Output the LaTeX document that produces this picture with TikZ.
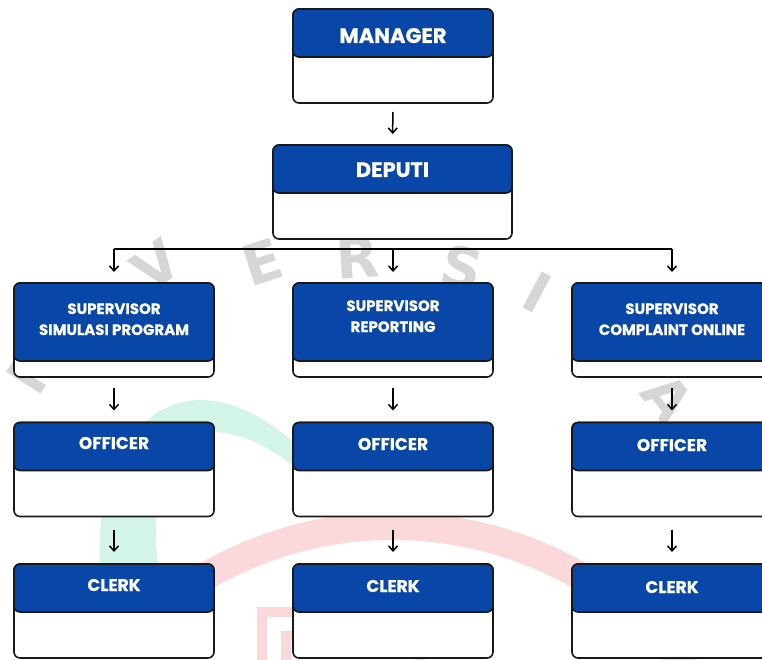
\documentclass[tikz,border=0pt]{standalone}
\usepackage{fontspec}
\setmainfont{Poppins}[BoldFeatures={FakeBold=0.6}]
\newfontfamily\wmfont{DejaVu Sans}
\usetikzlibrary{arrows.meta,calc}
\definecolor{hdblue}{RGB}{8,70,168}
\definecolor{wmgreen}{RGB}{210,245,232}
\definecolor{wmpink}{RGB}{251,216,217}
\begin{document}
\begin{tikzpicture}[x=1pt,y=-1pt,
  box/.style={draw=black!90, line width=1.6pt, rounded corners=6pt, fill=white, inner sep=0pt, outer sep=0pt, minimum width=200pt, minimum height=94pt},
  head/.style={draw=black!90, line width=1.6pt, rounded corners=6pt, fill=hdblue, inner sep=0pt, outer sep=0pt, minimum width=200pt, anchor=north},
  ttl/.style={text=white, font=\bfseries\fontsize{21}{24}\selectfont, anchor=base, inner sep=0pt},
  lvl/.style={text=white, font=\bfseries\fontsize{17}{20}\selectfont, anchor=base, inner sep=0pt},
  sub/.style={text=white, font=\bfseries\fontsize{15}{18}\selectfont, anchor=base, inner sep=0pt},
  arr/.style={line width=1.5pt, -{Straight Barb[length=5pt,width=9pt,line width=1.5pt]}},
  wm/.style={text=black!16, font=\wmfont\bfseries\fontsize{56}{56}\selectfont, inner sep=0pt}
]
\useasboundingbox (0,0) rectangle (762,660);
\clip (0,0) rectangle (762,660);

% ---- faint watermark ----
\fill[wmgreen] (100,565) .. controls (95,450) and (150,400) .. (200,400)
  .. controls (240,400) and (275,425) .. (300,448) -- (300,472)
  .. controls (270,445) and (235,430) .. (205,432)
  .. controls (165,436) and (150,500) .. (158,565) -- cycle;
\coordinate (wmc) at (393,900);
\draw[wmpink, line width=28pt] ([shift={(125:374pt)}]wmc) arc[start angle=125, end angle=35, radius=374pt];
\draw[wmpink, line width=10pt] (262,612) rectangle (420,720);
\draw[wmpink, line width=10pt] (286,636) rectangle (420,720);
\node[wm, rotate=58] (wmN) at (34,368) {N};
\node[wm, rotate=36] (wmV) at (156,265) {V};
\node[wm, rotate=18] (wmE) at (262,262) {E};
\node[wm, rotate=4] (wmR) at (358,258) {R};
\node[wm, rotate=-14] (wmS) at (462,268) {S};
\node[wm, rotate=-28] (wmI) at (537,292) {I};
\node[wm, rotate=-52] (wmA) at (668,398) {A};

% ---- manager ----
\node[box] (mgr) at (393,56) {};
\node[head, minimum height=48pt] (mgrh) at (mgr.north) {};
\node[ttl] (mgrt) at (393,43) {MANAGER};

% ---- deputi ----
\node[box, minimum width=239pt] (dep) at (392.5,192) {};
\node[head, minimum width=239pt, minimum height=48pt] (deph) at (dep.north) {};
\node[ttl] (dept) at (392.5,177) {DEPUTI};

% ---- supervisors ----
\node[box] (sup1) at (114,330) {};
\node[head, minimum height=78pt] (sup1h) at (sup1.north) {};
\node[sub] (sup1a) at (114,314) {SUPERVISOR};
\node[sub] (sup1b) at (114,335) {SIMULASI PROGRAM};

\node[box] (sup2) at (393,330) {};
\node[head, minimum height=78pt] (sup2h) at (sup2.north) {};
\node[sub] (sup2a) at (393,311) {SUPERVISOR};
\node[sub] (sup2b) at (393,332) {REPORTING};

\node[box] (sup3) at (672,330) {};
\node[head, minimum height=78pt] (sup3h) at (sup3.north) {};
\node[sub] (sup3a) at (672,314) {SUPERVISOR};
\node[sub] (sup3b) at (672,335) {COMPLAINT ONLINE};

% ---- officers ----
\node[box] (off1) at (114,469.5) {};
\node[head, minimum height=48pt] (off1h) at (off1.north) {};
\node[lvl] (off1t) at (114,449) {OFFICER};

\node[box] (off2) at (393,469.5) {};
\node[head, minimum height=48pt] (off2h) at (off2.north) {};
\node[lvl] (off2t) at (393,450) {OFFICER};

\node[box] (off3) at (672,469.5) {};
\node[head, minimum height=48pt] (off3h) at (off3.north) {};
\node[lvl] (off3t) at (672,451) {OFFICER};

% ---- clerks ----
\node[box] (clk1) at (114,611) {};
\node[head, minimum height=48pt] (clk1h) at (clk1.north) {};
\node[lvl] (clk1t) at (114,591) {CLERK};

\node[box] (clk2) at (393,611) {};
\node[head, minimum height=48pt] (clk2h) at (clk2.north) {};
\node[lvl] (clk2t) at (393,592) {CLERK};

\node[box] (clk3) at (672,611) {};
\node[head, minimum height=48pt] (clk3h) at (clk3.north) {};
\node[lvl] (clk3t) at (672,593) {CLERK};

% ---- connectors ----
\draw[arr, shorten <=9pt, shorten >=11pt] (mgr.south) -- (deph.north);
\coordinate (bar) at ($(dep.south)+(0,10)$);
\draw[line width=1.5pt] (sup1.north |- bar) -- (sup3.north |- bar);
\foreach \s in {sup1,sup2,sup3}
  \draw[arr, shorten >=11pt] (\s.north |- bar) -- (\s h.north);
\draw[arr, shorten <=11pt, shorten >=12pt] (sup1.south) -- (off1h.north);
\draw[arr, shorten <=11pt, shorten >=12pt] (sup2.south) -- (off2h.north);
\draw[arr, shorten <=11pt, shorten >=12pt] (sup3.south) -- (off3h.north);
\draw[arr, shorten <=13pt, shorten >=12pt] (off1.south) -- (clk1h.north);
\draw[arr, shorten <=13pt, shorten >=12pt] (off2.south) -- (clk2h.north);
\draw[arr, shorten <=13pt, shorten >=12pt] (off3.south) -- (clk3h.north);
\end{tikzpicture}
\end{document}
